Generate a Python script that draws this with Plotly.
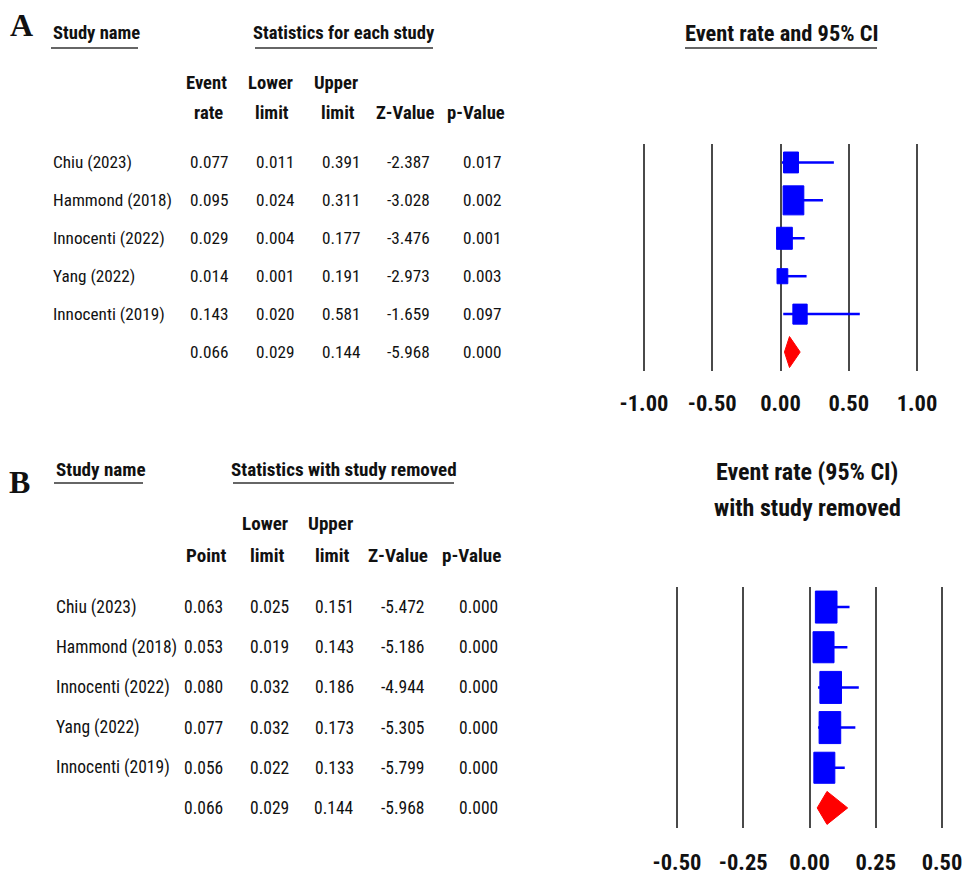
import plotly.graph_objects as go

W, H = 974, 874
OFF = 8  # page body margin of the html page

# ---------------- data ----------------
studies = ["Chiu (2023)", "Hammond (2018)", "Innocenti (2022)", "Yang (2022)", "Innocenti (2019)"]

# Panel A: statistics for each study
rate_A = [0.077, 0.095, 0.029, 0.014, 0.143]
lower_A = [0.011, 0.024, 0.004, 0.001, 0.020]
upper_A = [0.391, 0.311, 0.177, 0.191, 0.581]
z_A = [-2.387, -3.028, -3.476, -2.973, -1.659]
p_A = [0.017, 0.002, 0.001, 0.003, 0.097]
summary_A = [0.066, 0.029, 0.144, -5.968, 0.000]   # point, lower, upper, Z, p
weight_A = [0.72, 1.00, 0.76, 0.52, 0.69]            # relative study weight (box size)
ticks_A = [-1.00, -0.50, 0.00, 0.50, 1.00]

# Panel B: statistics with study removed
point_B = [0.063, 0.053, 0.080, 0.077, 0.056]
lower_B = [0.025, 0.019, 0.032, 0.032, 0.022]
upper_B = [0.151, 0.143, 0.186, 0.173, 0.133]
z_B = [-5.472, -5.186, -4.944, -5.305, -5.799]
p_B = [0.000, 0.000, 0.000, 0.000, 0.000]
summary_B = [0.066, 0.029, 0.144, -5.968, 0.000]
weight_B = [1.00, 0.97, 1.00, 1.00, 0.97]
ticks_B = [-0.50, -0.25, 0.00, 0.25, 0.50]

# ---------------- styling ----------------
FONT = "Roboto Condensed, Liberation Sans Narrow, Arial Narrow, sans-serif"
SERIF = "Liberation Serif, Times New Roman, serif"
BLUE = "#0000FF"
RED = "#FF0000"
GRID = "#4a4a4a"
INK = "#111111"


def px(x):
    return (x - OFF) / W


def py(y):
    return 1 - (y - OFF) / H


# panel geometry (screen pixels)
A_X = (630, 931); A_RANGE = [-1.1026, 1.1026]; A_Y = (143.5, 371)
B_X = (663, 956); B_RANGE = [-0.5528, 0.5528]; B_Y = (587, 828)
NROW = 6


def ppu(xd, rng):
    return (xd[1] - xd[0]) / (rng[1] - rng[0])


def ppr(yd):
    return (yd[1] - yd[0]) / NROW


def ci_lines(lo, hi):
    xs, ys = [], []
    for i, (a, b) in enumerate(zip(lo, hi)):
        xs += [a, b, None]
        ys += [i, i, None]
    return xs, ys


def boxes(vals, weights, hmax, aspect, pu, pr):
    xs, ys = [], []
    for i, (v, w) in enumerate(zip(vals, weights)):
        hh = hmax * w / 2 / pr
        hw = hmax * w / aspect / 2 / pu
        xs += [v - hw, v + hw, v + hw, v - hw, v - hw, None]
        ys += [i - hh, i - hh, i + hh, i + hh, i - hh, None]
    return xs, ys


def diamond(s, hpx, pr):
    hh = hpx / 2 / pr
    r = NROW - 1
    return [s[1], s[0], s[2], s[0], s[1]], [r, r - hh, r, r + hh, r]


fig = go.Figure()

panels = [
    ("x", "y", rate_A, lower_A, upper_A, summary_A, weight_A, A_X, A_RANGE, A_Y, 29, 1.4, 31),
    ("x2", "y2", point_B, lower_B, upper_B, summary_B, weight_B, B_X, B_RANGE, B_Y, 32, 1.48, 33),
]
for xa, ya, pt, lo, hi, sm, wt, xd, rng, yd, hmax, asp, dh in panels:
    pu, pr = ppu(xd, rng), ppr(yd)
    cx, cy = ci_lines(lo, hi)
    fig.add_trace(go.Scatter(x=cx, y=cy, mode="lines", line=dict(color=BLUE, width=2.5),
                             xaxis=xa, yaxis=ya, hoverinfo="skip", showlegend=False))
    bx, by = boxes(pt, wt, hmax, asp, pu, pr)
    fig.add_trace(go.Scatter(x=bx, y=by, mode="lines", fill="toself", fillcolor=BLUE,
                             line=dict(color=BLUE, width=1), xaxis=xa, yaxis=ya,
                             hoverinfo="skip", showlegend=False))
    dx, dy = diamond(sm, dh, pr)
    fig.add_trace(go.Scatter(x=dx, y=dy, mode="lines", fill="toself", fillcolor=RED,
                             line=dict(color=RED, width=1), xaxis=xa, yaxis=ya,
                             hoverinfo="skip", showlegend=False))

axis_common = dict(showgrid=True, gridcolor=GRID, gridwidth=2, zeroline=False, showline=False,
                   ticks="", fixedrange=True, automargin=False,
                   tickfont=dict(family=FONT, size=22.5, color=INK, weight="bold"))

fig.update_layout(
    width=W, height=H, margin=dict(l=0, r=0, t=0, b=0, autoexpand=False),
    paper_bgcolor="white", plot_bgcolor="white",
    font=dict(family=FONT, size=17.2, color=INK),
    xaxis=dict(domain=[px(A_X[0]), px(A_X[1])], range=A_RANGE, tickvals=ticks_A,
               ticktext=[f"{t:.2f}" for t in ticks_A], anchor="y", ticklabelstandoff=16,
               **axis_common),
    yaxis=dict(domain=[py(A_Y[1]), py(A_Y[0])], range=[NROW - 0.5, -0.5], visible=False,
               fixedrange=True, anchor="x", automargin=False),
    xaxis2=dict(domain=[px(B_X[0]), px(B_X[1])], range=B_RANGE, tickvals=ticks_B,
                ticktext=[f"{t:.2f}" for t in ticks_B], anchor="y2", ticklabelstandoff=18,
                **axis_common),
    yaxis2=dict(domain=[py(B_Y[1]), py(B_Y[0])], range=[NROW - 0.5, -0.5], visible=False,
                fixedrange=True, anchor="x2", automargin=False),
)

ann = []


def text(x, y, s, xanchor="center", yref="paper", size=17.2, bold=False, family=FONT):
    ann.append(dict(x=px(x), y=(py(y) if yref == "paper" else y), xref="paper", yref=yref,
                    text=(f"<b>{s}</b>" if bold else s), showarrow=False, xanchor=xanchor,
                    yanchor="middle", font=dict(family=family, size=size, color=INK)))


shapes = []


def underline(x0, x1, y):
    shapes.append(dict(type="line", xref="paper", yref="paper", x0=px(x0), x1=px(x1),
                       y0=py(y), y1=py(y), line=dict(color="#666666", width=2)))


HA = 18.6   # header size panel A
HB = 19.1   # header size panel B

# ---- Panel A text ----
text(21, 25, "A", size=32, bold=True, family=SERIF)
text(51, 33, "Study name", xanchor="left", bold=True, size=HA)
underline(51, 138, 48)
text(344, 33, "Statistics for each study", bold=True, size=HA)
underline(255, 433, 48)
text(781, 33, "Event rate and 95% CI", size=22.4, bold=True)
underline(685, 877, 48)
for s, x, y in [("Event", 206, 83), ("rate", 208, 113), ("Lower", 270, 83), ("limit", 272, 113),
                ("Upper", 336, 83), ("limit", 338, 113), ("Z-Value", 405, 113), ("p-Value", 476, 113)]:
    text(x, y, s, bold=True, size=HA)
right_A = [230, 296, 362, 432, 503]
rows_A = list(zip(rate_A, lower_A, upper_A, z_A, p_A)) + [tuple(summary_A)]
for i, row in enumerate(rows_A):
    if i < len(studies):
        text(51, i, studies[i], xanchor="left", yref="y")
    for xr, v in zip(right_A, row):
        text(xr, i, f"{v:.3f}", xanchor="right", yref="y")

# ---- Panel B text ----
text(19, 482, "B", size=32, bold=True, family=SERIF)
text(54, 470, "Study name", xanchor="left", bold=True, size=HB)
underline(54, 143, 483)
text(344, 470, "Statistics with study removed", bold=True, size=HB)
underline(233, 454, 483)
text(807, 472, "Event rate (95% CI)", size=24, bold=True)
text(807, 508, "with study removed", size=24, bold=True)
for s, x, y in [("Point", 206, 555), ("Lower", 265, 523), ("limit", 267, 555),
                ("Upper", 330, 523), ("limit", 332, 555), ("Z-Value", 398, 555), ("p-Value", 471, 555)]:
    text(x, y, s, bold=True, size=HB)
right_B = [225, 291, 356, 427, 500]
rows_B = list(zip(point_B, lower_B, upper_B, z_B, p_B)) + [tuple(summary_B)]
for i, row in enumerate(rows_B):
    if i < len(studies):
        text(54, i, studies[i], xanchor="left", yref="y2", size=17.5)
    for xr, v in zip(right_B, row):
        text(xr, i, f"{v:.3f}", xanchor="right", yref="y2", size=17.5)

fig.update_layout(annotations=ann, shapes=shapes)
fig.write_html("out.html")
